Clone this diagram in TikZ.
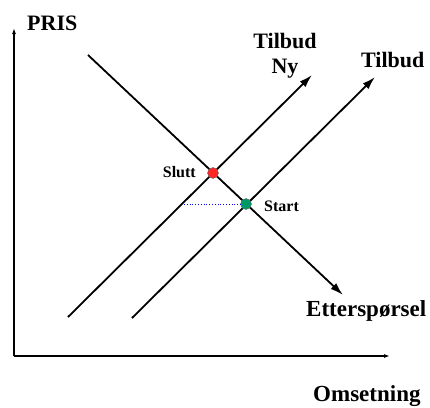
\documentclass[tikz,border=0pt]{standalone}
\usepackage{fontspec}
\setmainfont{Liberation Serif}
\usetikzlibrary{arrows.meta}
\begin{document}
\begin{tikzpicture}[x=1pt,y=-1pt,
  big/.style={font=\bfseries\fontsize{22}{22}\selectfont, inner sep=0pt},
  bigger/.style={font=\bfseries\fontsize{23}{23}\selectfont, inner sep=0pt},
  small/.style={font=\bfseries\fontsize{16}{16}\selectfont, inner sep=0pt},
  curve/.style={line width=1.8pt, -{Latex[length=13pt,width=8pt]}},
  axis/.style={line width=1.2pt, -{Latex[length=6pt,width=4pt]}},
  pt/.style={circle, draw=black!60, line width=0.4pt, minimum size=11pt, inner sep=0pt}]
\useasboundingbox (0,0) rectangle (430,407);
% axes
\coordinate (O) at (14,356);
\coordinate (Ytip) at (14,28);
\coordinate (Xtip) at (390,356);
\draw[axis] (O) -- (Ytip);
\draw[axis] (O) -- (Xtip);
% curves
\coordinate (D0) at (88,55);   \coordinate (D1) at (343,295);
\coordinate (N0) at (68,317);  \coordinate (N1) at (312,75);
\coordinate (S0) at (132,318); \coordinate (S1) at (375,77);
\draw[curve] (D0) -- (D1);
\draw[curve] (N0) -- (N1);
\draw[curve] (S0) -- (S1);
% points and dotted line
\coordinate (L) at (184,204);
\node[pt, fill=red!85!white] (slutt) at (213,173) {};
\node[pt, fill=teal!80!green] (start) at (246,204) {};
\draw[blue, dotted, line width=0.8pt] (L) -- (start);
% labels
\node[big, anchor=base west] (pris) at (27,30) {PRIS};
\node[big, anchor=base] (tny1) at (285,48) {Tilbud};
\node[big, anchor=base] (tny2) at (285,73) {Ny};
\node[big, anchor=base west] (t) at (361,67) {Tilbud};
\node[bigger, anchor=base west] (ett) at (306,316) {Etterspørsel};
\node[bigger, anchor=base west] (oms) at (313,401) {Omsetning};
\node[small, anchor=base east] (sl) at (196,177) {Slutt};
\node[small, anchor=base west] (st) at (264,211) {Start};
\end{tikzpicture}
\end{document}
